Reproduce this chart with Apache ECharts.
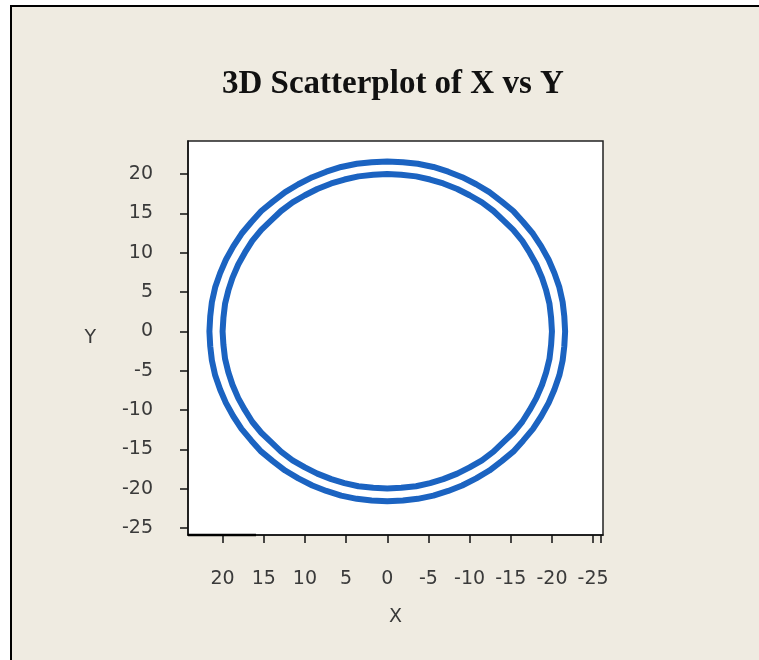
<!DOCTYPE html>
<html>
<head>
<meta charset="utf-8">
<script src="https://cdn.jsdelivr.net/npm/echarts@6/dist/echarts.min.js"></script>
<style>
  html, body { margin: 0; padding: 0; background: #ffffff; }
  #frame {
    position: absolute; left: 10px; top: 5px; width: 749px; height: 655px;
    background: #efebe1; border-left: 2px solid #000; border-top: 2px solid #000;
    box-sizing: border-box;
  }
  #chart { position: absolute; left: 0; top: 0; width: 759px; height: 660px; }
</style>
</head>
<body>
<div id="frame"></div>
<div id="chart"></div>
<script>
// Inner ring (r ≈ 20), sampled every 5 degrees, closed
const innerX = [20.0,19.9,19.7,19.3,18.8,18.1,17.3,16.4,15.3,14.1,12.9,11.5,10.0,8.5,6.8,5.2,3.5,1.7,0.0,
  -1.7,-3.5,-5.2,-6.8,-8.5,-10.0,-11.5,-12.9,-14.1,-15.3,-16.4,-17.3,-18.1,-18.8,-19.3,-19.7,-19.9,-20.0,
  -19.9,-19.7,-19.3,-18.8,-18.1,-17.3,-16.4,-15.3,-14.1,-12.9,-11.5,-10.0,-8.5,-6.8,-5.2,-3.5,-1.7,0.0,
  1.7,3.5,5.2,6.8,8.5,10.0,11.5,12.9,14.1,15.3,16.4,17.3,18.1,18.8,19.3,19.7,19.9,20.0];
const innerY = [0.0,1.7,3.5,5.2,6.8,8.5,10.0,11.5,12.9,14.1,15.3,16.4,17.3,18.1,18.8,19.3,19.7,19.9,20.0,
  19.9,19.7,19.3,18.8,18.1,17.3,16.4,15.3,14.1,12.9,11.5,10.0,8.5,6.8,5.2,3.5,1.7,0.0,
  -1.7,-3.5,-5.2,-6.8,-8.5,-10.0,-11.5,-12.9,-14.1,-15.3,-16.4,-17.3,-18.1,-18.8,-19.3,-19.7,-19.9,-20.0,
  -19.9,-19.7,-19.3,-18.8,-18.1,-17.3,-16.4,-15.3,-14.1,-12.9,-11.5,-10.0,-8.5,-6.8,-5.2,-3.5,-1.7,0.0];

// Outer ring (r ≈ 21.6), sampled every 5 degrees, closed
const outerX = [21.6,21.5,21.3,20.9,20.3,19.6,18.7,17.7,16.5,15.3,13.9,12.4,10.8,9.1,7.4,5.6,3.7,1.9,0.0,
  -1.9,-3.7,-5.6,-7.4,-9.1,-10.8,-12.4,-13.9,-15.3,-16.5,-17.7,-18.7,-19.6,-20.3,-20.9,-21.3,-21.5,-21.6,
  -21.5,-21.3,-20.9,-20.3,-19.6,-18.7,-17.7,-16.5,-15.3,-13.9,-12.4,-10.8,-9.1,-7.4,-5.6,-3.7,-1.9,0.0,
  1.9,3.7,5.6,7.4,9.1,10.8,12.4,13.9,15.3,16.5,17.7,18.7,19.6,20.3,20.9,21.3,21.5,21.6];
const outerY = [0.0,1.9,3.7,5.6,7.4,9.1,10.8,12.4,13.9,15.3,16.5,17.7,18.7,19.6,20.3,20.9,21.3,21.5,21.6,
  21.5,21.3,20.9,20.3,19.6,18.7,17.7,16.5,15.3,13.9,12.4,10.8,9.1,7.4,5.6,3.7,1.9,0.0,
  -1.9,-3.7,-5.6,-7.4,-9.1,-10.8,-12.4,-13.9,-15.3,-16.5,-17.7,-18.7,-19.6,-20.3,-20.9,-21.3,-21.5,-21.6,
  -21.5,-21.3,-20.9,-20.3,-19.6,-18.7,-17.7,-16.5,-15.3,-13.9,-12.4,-10.8,-9.1,-7.4,-5.6,-3.7,-1.9,0.0];

// Tick labels for both axes
const xTicks = [20, 15, 10, 5, 0, -5, -10, -15, -20, -25];
const yTicks = [20, 15, 10, 5, 0, -5, -10, -15, -20, -25];

const pairs = (xs, ys) => xs.map((x, i) => [x, ys[i]]);

const labelFont = { fontFamily: 'DejaVu Sans', fontSize: 19, color: '#3a3a3a' };
const ringColor = '#1b63c1';

const chart = echarts.init(document.getElementById('chart'), null, { renderer: 'canvas' });
chart.setOption({
  backgroundColor: 'transparent',
  animation: false,
  title: {
    text: '3D Scatterplot of X vs Y',
    left: 217,
    top: 63,
    textStyle: { fontFamily: 'Liberation Serif', fontWeight: 'bold', fontSize: 33, color: '#111' }
  },
  grid: {
    left: 188, top: 141, right: 156, bottom: 125,
    show: true, backgroundColor: '#ffffff', borderColor: '#222', borderWidth: 1.5
  },
  xAxis: {
    type: 'value', inverse: true, min: -26.2, max: 24.2,
    name: 'X', nameLocation: 'middle', nameGap: 73,
    nameTextStyle: labelFont,
    axisLine: { show: true, onZero: false, lineStyle: { color: '#111', width: 1.5 } },
    axisTick: { show: true, length: 8, customValues: xTicks.concat([-25.9]), lineStyle: { color: '#111', width: 1.5 } },
    axisLabel: Object.assign({ margin: 35, customValues: xTicks }, labelFont),
    splitLine: { show: false }
  },
  yAxis: {
    type: 'value', min: -25.9, max: 24.2,
    name: 'Y', nameLocation: 'middle', nameGap: 92, nameRotate: 0,
    nameTextStyle: labelFont,
    axisLine: { show: true, onZero: false, lineStyle: { color: '#111', width: 1.5 } },
    axisTick: { show: true, length: 8, customValues: yTicks, lineStyle: { color: '#111', width: 1.5 } },
    axisLabel: Object.assign({ margin: 35, customValues: yTicks }, labelFont),
    splitLine: { show: false }
  },
  graphic: [{
    type: 'line', z: 100,
    shape: { x1: 188, y1: 535, x2: 256, y2: 535 },
    style: { stroke: '#000', lineWidth: 2.5 }
  }],
  series: [
    {
      name: 'outer', type: 'line', smooth: false, showSymbol: false,
      data: pairs(outerX, outerY),
      lineStyle: { color: ringColor, width: 6, join: 'round', cap: 'round' }
    },
    {
      name: 'inner', type: 'line', smooth: false, showSymbol: false,
      data: pairs(innerX, innerY),
      lineStyle: { color: ringColor, width: 6, join: 'round', cap: 'round' }
    }
  ]
});
</script>
</body>
</html>
